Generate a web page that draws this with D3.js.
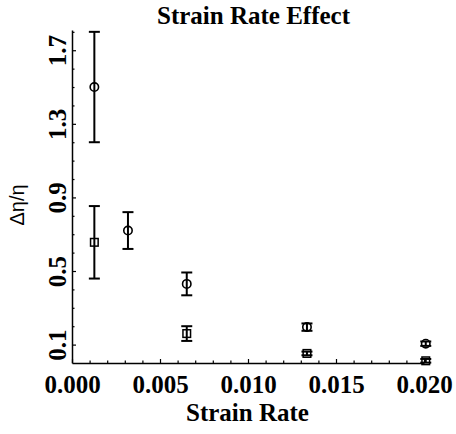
<!DOCTYPE html>
<html>
<head>
<meta charset="utf-8">
<script src="https://cdn.jsdelivr.net/npm/d3@7"></script>
<style>
  html, body { margin: 0; padding: 0; background: #fff; }
  svg { display: block; }
  .serif { font-family: "Liberation Serif", "Times New Roman", serif; font-weight: bold; fill: #000; }
</style>
</head>
<body>
<svg id="chart" width="456" height="434"></svg>
<script>
// Strain rates and the two measured series (mean and error half-width)
const circleRates  = [0.00127, 0.00318, 0.00652, 0.01335, 0.0201];
const circleValues = [1.50, 0.72, 0.43, 0.195, 0.105];
const circleErrors = [0.30, 0.10, 0.062, 0.02, 0.012];

const squareRates  = [0.00127, 0.00652, 0.01335, 0.0201];
const squareValues = [0.656, 0.16, 0.052, 0.012];
const squareErrors = [0.197, 0.04, 0.01, 0.01];

const xTicks = [0, 0.005, 0.010, 0.015, 0.020];
const yTicks = [0.1, 0.5, 0.9, 1.3, 1.7];

const titleText = "Strain Rate Effect";
const xLabel = "Strain Rate";
const yLabel = "Δη/η";

const svg = d3.select("#chart");
const plotLeft = 72, plotRight = 424, plotTop = 30, plotBottom = 363;

const x = d3.scaleLinear().domain([0, 0.02]).range([plotLeft, plotRight]);
const y = d3.scaleLinear().domain([0, 1.81]).range([plotBottom, plotTop]);

// minor ticks
const xMinor = d3.range(1, 20).map(i => i * 0.001).filter(v => !xTicks.some(t => Math.abs(t - v) < 1e-9));
const yMinor = d3.range(1, 19).map(i => i * 0.1).filter(v => !yTicks.some(t => Math.abs(t - v) < 1e-9));

const gx = svg.append("g").attr("transform", `translate(0,${plotBottom})`);
gx.call(d3.axisBottom(x).tickValues(xTicks).tickSize(-4).tickSizeOuter(0).tickPadding(12)
  .tickFormat(d3.format(".3f")));
gx.append("g").call(d3.axisBottom(x).tickValues(xMinor).tickSize(-2.5).tickFormat(""))
  .select(".domain").remove();

const gy = svg.append("g").attr("transform", `translate(${plotLeft},0)`);
gy.call(d3.axisLeft(y).tickValues(yTicks).tickSize(-4).tickSizeOuter(0).tickFormat(d3.format(".1f")));
gy.append("g").call(d3.axisLeft(y).tickValues(yMinor).tickSize(-2.5).tickFormat(""))
  .select(".domain").remove();

[gx, gy].forEach(g => {
  g.selectAll("path.domain").attr("stroke", "#000").attr("stroke-width", 1.5);
  g.selectAll("line").attr("stroke", "#000").attr("stroke-width", 1.2);
  g.selectAll("text").attr("class", "serif").style("font-size", "25px").attr("fill", "#000");
});
gy.selectAll(".tick text")
  .attr("transform", "rotate(-90)")
  .attr("x", 0).attr("y", -6).attr("dy", 0)
  .attr("text-anchor", "middle");

// error bars
function errorBars(rates, values, errs) {
  const g = svg.append("g").attr("stroke", "#000").attr("stroke-width", 2).attr("fill", "none");
  rates.forEach((r, i) => {
    const cx = x(r), y0 = y(values[i] - errs[i]), y1 = y(values[i] + errs[i]);
    g.append("line").attr("x1", cx).attr("x2", cx).attr("y1", y0).attr("y2", y1);
    g.append("line").attr("x1", cx - 5.5).attr("x2", cx + 5.5).attr("y1", y0).attr("y2", y0);
    g.append("line").attr("x1", cx - 5.5).attr("x2", cx + 5.5).attr("y1", y1).attr("y2", y1);
  });
}
errorBars(circleRates, circleValues, circleErrors);
errorBars(squareRates, squareValues, squareErrors);

svg.append("g").selectAll("circle").data(circleRates).join("circle")
  .attr("cx", d => x(d)).attr("cy", (d, i) => y(circleValues[i])).attr("r", 4.2)
  .attr("fill", "none").attr("stroke", "#000").attr("stroke-width", 1.6);

svg.append("g").selectAll("rect").data(squareRates).join("rect")
  .attr("x", d => x(d) - 3.8).attr("y", (d, i) => y(squareValues[i]) - 3.8)
  .attr("width", 7.6).attr("height", 7.6)
  .attr("fill", "none").attr("stroke", "#000").attr("stroke-width", 1.5);

// titles
svg.append("text").attr("class", "serif").attr("x", 253.5).attr("y", 24)
  .attr("text-anchor", "middle").style("font-size", "25px").text(titleText);
svg.append("text").attr("class", "serif").attr("x", 247.5).attr("y", 421)
  .attr("text-anchor", "middle").style("font-size", "25px").text(xLabel);
svg.append("text")
  .attr("transform", "translate(24,205) rotate(-90)")
  .attr("text-anchor", "middle")
  .style("font-family", "'Liberation Sans', Arial, sans-serif")
  .style("font-size", "20px").attr("fill", "#000").text(yLabel);
</script>
</body>
</html>
